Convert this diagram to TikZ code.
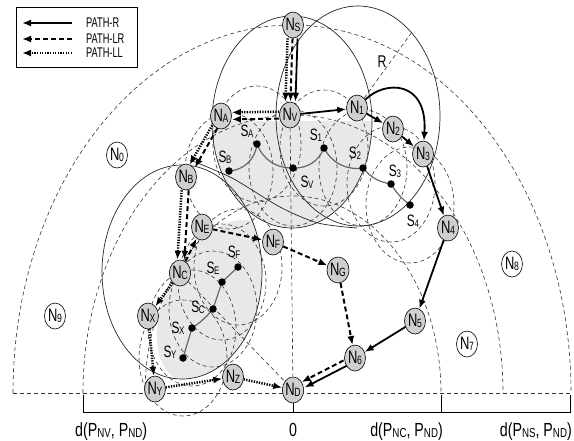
\documentclass[tikz,border=0pt]{standalone}
\usepackage{fontspec}
\setmainfont{Liberation Sans}
\newfontfamily\labfont[FakeStretch=0.72]{Liberation Sans}
\newfontfamily\legfont[FakeStretch=0.66]{Liberation Sans}
\newfontfamily\axfont[FakeStretch=0.75]{Liberation Sans}
\usetikzlibrary{shapes.geometric,arrows.meta}
\newcommand\Nn[1]{{\fontsize{18}{18}\selectfont N}\kern-0.5pt\raisebox{-1.5pt}{\fontsize{12}{12}\selectfont #1}}
\newcommand\Sn[1]{{\fontsize{16.5}{16.5}\selectfont S}\kern-0.3pt\raisebox{-1.3pt}{\fontsize{11}{11}\selectfont #1}}
\newcommand\Pd[2]{d(P\raisebox{-1.2pt}{\fontsize{13}{13}\selectfont #1}, P\raisebox{-1.2pt}{\fontsize{13}{13}\selectfont #2})}
\begin{document}
\begin{tikzpicture}[x=1pt,y=-1pt,
  nd/.style={ellipse, draw, line width=0.6pt, fill=gray!38, inner sep=0pt, minimum width=21pt, minimum height=26pt, font=\labfont},
  wn/.style={nd, fill=white},
  sdot/.style={circle, fill=black, inner sep=0pt, minimum size=7.5pt},
  slab/.style={inner sep=0pt, font=\labfont},
  thdash/.style={dash pattern=on 4pt off 3pt, line width=0.6pt, black!80},
  rng/.style={line width=0.7pt, black!85},
  chain/.style={line width=1.2pt, black!60},
  gfill/.style={fill=gray!18},
  tip/.style={-{Latex[length=9pt,width=7pt]}},
  pr/.style={tip, line width=1.8pt},
  plr/.style={tip, line width=2pt, dash pattern=on 5pt off 3pt},
  pll/.style={tip, line width=2.5pt, dash pattern=on 1.3pt off 1.3pt},
  leg/.style={font=\legfont\fontsize{14}{14}\selectfont, inner sep=0pt, anchor=west},
  axl/.style={font=\axfont\fontsize{19}{19}\selectfont, inner sep=0pt, anchor=base}
]
\useasboundingbox (0,0) rectangle (574,440);

% ---------- coordinates of sensors ----------
\coordinate (SA) at (257,144);
\coordinate (SB) at (229,171);
\coordinate (SV) at (293,168);
\coordinate (S1) at (324,148);
\coordinate (S2) at (363,168);
\coordinate (S3) at (391,184);
\coordinate (S4) at (410,205);
\coordinate (SF) at (238,267);
\coordinate (SE) at (222,282);
\coordinate (SC) at (213,309);
\coordinate (SX) at (192,328);
\coordinate (SY) at (183,358);

% ---------- grey regions ----------
\begin{scope}
  \clip (200,121) rectangle (390,240);
  \fill[gfill] (292,122) ellipse [x radius=80pt, y radius=106pt];
\end{scope}
\begin{scope}
  \clip (182,272) ellipse [x radius=80pt, y radius=107pt];
  \fill[gfill, rotate around={-27:(218,302)}] (218,302) ellipse [x radius=52pt, y radius=88pt];
\end{scope}

% ---------- big dashed arcs centred at ND ----------
\draw[thdash] (13,393) arc[start angle=180, end angle=0, x radius=279pt, y radius=368pt];
\draw[thdash] (83,393) arc[start angle=180, end angle=0, x radius=210pt, y radius=278pt];
\draw[thdash] (145,393) arc[start angle=180, end angle=0, x radius=148pt, y radius=197pt];
\draw[thdash] (13,393) -- (571,393);

% ---------- sensor coverage (dashed) ----------
\foreach \s in {SA,SB,SV,S1,S2,S3,S4,SF,SE,SC,SX,SY}
  \draw[thdash] (\s) ellipse [x radius=44pt, y radius=58pt];

% ---------- range circles (solid) ----------
\draw[rng] (292,122) ellipse [x radius=80pt, y radius=106pt];
\draw[rng] (358,116) ellipse [x radius=82pt, y radius=110pt];
\draw[rng] (182,272) ellipse [x radius=80pt, y radius=107pt];
\draw[rng] plot[smooth] coordinates {(190,160) (232,178) (280,207) (318,223) (357,228)};

% ---------- nodes ----------
\node[nd] (NS) at (293,25) {\Nn{S}};
\node[nd] (NV) at (290,115) {\Nn{V}};
\node[nd] (NA) at (221,116) {\Nn{A}};
\node[nd] (N1) at (357,108) {\Nn{1}};
\node[nd] (N2) at (393,129) {\Nn{2}};
\node[nd] (N3) at (423,154) {\Nn{3}};
\node[nd] (N4) at (448,228) {\Nn{4}};
\node[nd] (N5) at (415,321) {\Nn{5}};
\node[nd] (N6) at (355,358) {\Nn{6}};
\node[nd] (ND) at (293,390) {\Nn{D}};
\node[nd] (NG) at (338,270) {\Nn{G}};
\node[nd] (NF) at (273,242) {\Nn{F}};
\node[nd] (NE) at (202,227) {\Nn{E}};
\node[nd] (NB) at (186,177) {\Nn{B}};
\node[nd] (NC) at (180,273) {\Nn{C}};
\node[nd] (NX) at (148,316) {\Nn{X}};
\node[nd] (NY) at (155,389) {\Nn{Y}};
\node[nd] (NZ) at (233,377) {\Nn{Z}};
\node[wn] (N0) at (117,155) {\Nn{0}};
\node[wn] (N9) at (55,316) {\Nn{9}};
\node[wn] (N7) at (467,344) {\Nn{7}};
\node[wn] (N8) at (512,264) {\Nn{8}};

% ---------- thin dashed lines ----------
\draw[thdash] (NV) -- (ND);
\draw[thdash] (NC) -- (ND);
\coordinate (Rend) at (412,32);
\draw[thdash] (N1) -- (Rend);
\node[slab, font=\labfont\fontsize{17}{17}\selectfont] (R) at (382,62) {R};

% ---------- sensor chains ----------
\draw[chain] (SB) to[bend right=40] (SA);
\draw[chain] (SA) to[bend right=35] (SV);
\draw[chain] (SV) to[bend right=35] (S1);
\draw[chain] (S1) to[bend right=35] (S2);
\draw[chain] (S2) to[bend right=20] (S3);
\draw[chain] (S3) to[bend right=10] (S4);
\draw[chain] (SF) -- (SE) -- (SC) to[bend left=8] (SX) -- (SY);
\foreach \s in {SA,SB,SV,S1,S2,S3,S4,SF,SE,SC,SX,SY}
  \node[sdot] (d\s) at (\s) {};
\node[slab] (lSA) at (247,131) {\Sn{A}};
\node[slab] (lSB) at (225,157) {\Sn{B}};
\node[slab] (lSV) at (307,182) {\Sn{V}};
\node[slab] (lS1) at (316,135) {\Sn{1}};
\node[slab] (lS2) at (355,153) {\Sn{2}};
\node[slab] (lS3) at (395,171) {\Sn{3}};
\node[slab] (lS4) at (413,221) {\Sn{4}};
\node[slab] (lSF) at (234,252) {\Sn{F}};
\node[slab] (lSE) at (213,268) {\Sn{E}};
\node[slab] (lSC) at (198,307) {\Sn{C}};
\node[slab] (lSX) at (178,328) {\Sn{X}};
\node[slab] (lSY) at (170,352) {\Sn{Y}};

% ---------- paths ----------
\draw[pr,  transform canvas={xshift=5pt}] (NS) -- (NV);
\draw[plr] (NS) -- (NV);
\draw[pll, transform canvas={xshift=-5pt}] (NS) -- (NV);
\draw[pr] (NV) -- (N1);
\draw[pr] (N1) -- (N2);
\draw[pr] (N2) -- (N3);
\draw[pr] (N1) .. controls (385,80) and (428,80) .. (N3);
\draw[pr] (N3) -- (N4);
\draw[pr] (N4) -- (N5);
\draw[pr] (N5) -- (N6);
\draw[pr,  transform canvas={shift={(1.5pt,-2.7pt)}}] (N6) -- (ND);
\draw[plr, transform canvas={shift={(-1.5pt,2.7pt)}}] (N6) -- (ND);
\draw[pll, transform canvas={yshift=3.5pt}] (NV) -- (NA);
\draw[plr, transform canvas={yshift=-3.5pt}] (NV) -- (NA);
\draw[pll, transform canvas={shift={(-2.6pt,1.5pt)}}] (NA) -- (NB);
\draw[plr, transform canvas={shift={(2.6pt,-1.5pt)}}] (NA) -- (NB);
\draw[pll, transform canvas={xshift=-3.5pt}] (NB) -- (NC);
\draw[plr, transform canvas={xshift=3.5pt}] (NB) -- (NC);
\draw[plr] (NC) -- (NE);
\draw[plr] (NE) -- (NF);
\draw[plr] (NF) -- (NG);
\draw[plr] (NG) -- (N6);
\draw[pll] (NC) -- (NX);
\draw[pll] (NX) -- (NY);
\draw[pll] (NY) -- (NZ);
\draw[pll] (NZ) -- (ND);

% ---------- axis ----------
\coordinate (a0) at (83,395);
\coordinate (a1) at (83,412);
\coordinate (a2) at (570,412);
\coordinate (a3) at (570,395);
\draw[line width=0.7pt] (a0) -- (a1) -- (a2) -- (a3);
\coordinate (t0a) at (293,403); \coordinate (t0b) at (293,412);
\coordinate (t1a) at (441,395); \coordinate (t1b) at (441,412);
\draw[line width=0.7pt] (t0a) -- (t0b);
\draw[line width=0.7pt] (t1a) -- (t1b);
\node[axl, anchor=base west] (x0) at (75,436) {\Pd{NV}{ND}};
\node[axl] (x1) at (293,436) {0};
\node[axl, anchor=base east] (x2) at (443,436) {\Pd{NC}{ND}};
\node[axl, anchor=base east] (x3) at (572,436) {\Pd{NS}{ND}};

% ---------- legend ----------
\node[draw, line width=0.6pt, fill=white, minimum width=121pt, minimum height=60pt, anchor=north west, inner sep=0pt] (legend) at (16,7) {};
\coordinate (l1a) at (72,23); \coordinate (l1b) at (22,23);
\coordinate (l2a) at (72,39); \coordinate (l2b) at (22,39);
\coordinate (l3a) at (72,53); \coordinate (l3b) at (22,53);
\draw[pr] (l1a) -- (l1b);
\draw[plr] (l2a) -- (l2b);
\draw[pll] (l3a) -- (l3b);
\node[leg] (t1) at (86,23) {PATH-R};
\node[leg] (t2) at (86,39) {PATH-LR};
\node[leg] (t3) at (86,53) {PATH-LL};
\end{tikzpicture}
\end{document}
